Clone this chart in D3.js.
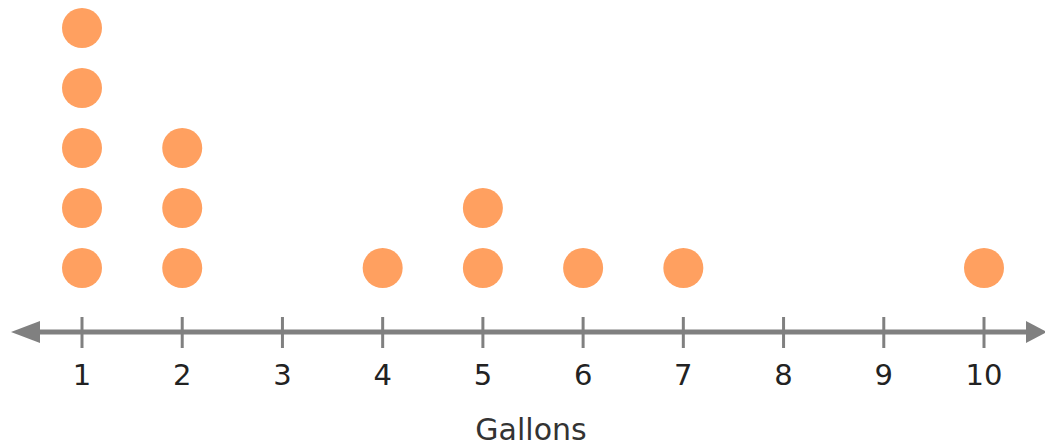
<!DOCTYPE html>
<html>
<head>
<meta charset="utf-8">
<script src="https://cdn.jsdelivr.net/npm/d3@7/dist/d3.min.js"></script>
<style>
body { margin:0; background:#fff; }
</style>
</head>
<body>
<svg id="plot"></svg>
<script>
//one entry per dot
var gallons = [1,1,1,1,1,2,2,2,4,5,5,6,7,10];
var tickValues = [1,2,3,4,5,6,7,8,9,10];
var axisTitle = "Gallons";

var screen = {width:1045, height:444};
var axisY = 332;
var dotR = 20;
var dotStep = 60;

var svg = d3.select("#plot")
    .attr("width",screen.width)
    .attr("height",screen.height);

//x scale: 1 sits at 82, 10 at 984
var xScale = d3.scaleLinear()
    .domain([1,10])
    .range([82,984]);

//stack position scale
var yScale = d3.scaleLinear()
    .domain([0,1])
    .range([axisY-64, axisY-64-dotStep]);

var grey = "#808080";

//main line with arrows
svg.append("line")
    .attr("x1",30).attr("x2",1030)
    .attr("y1",axisY).attr("y2",axisY)
    .attr("stroke",grey)
    .attr("stroke-width",5);

svg.append("path")
    .attr("d","M11,"+axisY+" L40,"+(axisY-11)+" L40,"+(axisY+11)+" Z")
    .attr("fill",grey);
svg.append("path")
    .attr("d","M1047,"+axisY+" L1026,"+(axisY-11)+" L1026,"+(axisY+11)+" Z")
    .attr("fill",grey);

//ticks and labels by hand via the scale
var ticks = svg.append("g").selectAll("g")
    .data(tickValues)
    .enter()
    .append("g")
    .attr("transform",function(d){ return "translate("+xScale(d)+",0)"; });

ticks.append("line")
    .attr("y1",axisY-15).attr("y2",axisY+16)
    .attr("stroke",grey)
    .attr("stroke-width",3);

ticks.append("text")
    .attr("y",385)
    .attr("text-anchor","middle")
    .attr("font-family","DejaVu Sans, Verdana, sans-serif")
    .attr("font-size",29)
    .attr("fill","#222")
    .text(function(d){ return d; });

svg.append("text")
    .attr("x",531)
    .attr("y",440)
    .attr("text-anchor","middle")
    .attr("font-family","DejaVu Sans, Verdana, sans-serif")
    .attr("font-size",30)
    .attr("fill","#333")
    .text(axisTitle);

//work out stack level for each dot
var counts = {};
var dots = gallons.map(function(v)
{
    counts[v] = (counts[v] || 0);
    var level = counts[v];
    counts[v]++;
    return {value:v, level:level};
});

svg.append("g").selectAll("circle")
    .data(dots)
    .enter()
    .append("circle")
    .attr("cx",function(d){ return xScale(d.value); })
    .attr("cy",function(d){ return yScale(d.level); })
    .attr("r",dotR)
    .attr("fill","#ffa060");
</script>
</body>
</html>
